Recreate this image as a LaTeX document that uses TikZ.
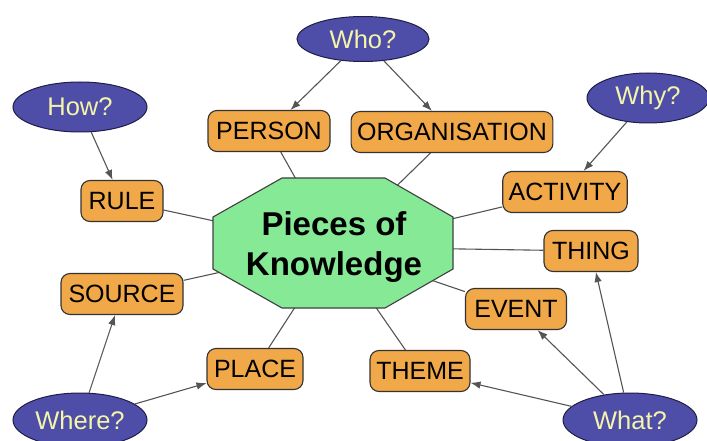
\documentclass[tikz,border=0pt]{standalone}
\usepackage{fontspec}
\setmainfont{Liberation Sans}
\usetikzlibrary{shapes.geometric,arrows.meta}
\pgfdeclarelayer{background}
\pgfsetlayers{background,main}
\definecolor{boxorange}{RGB}{240,168,72}
\definecolor{qblue}{RGB}{78,78,168}
\definecolor{qtext}{RGB}{245,245,170}
\definecolor{kgreen}{RGB}{134,233,150}
\definecolor{edgegray}{RGB}{85,85,85}
\definecolor{qborder}{RGB}{30,30,70}
\begin{document}
\begin{tikzpicture}[x=1pt,y=-1pt,
  box/.style={draw=black!80, fill=boxorange, rounded corners=9pt, line width=1.1pt,
    minimum height=41pt, inner xsep=6pt, inner ysep=0pt,
    font=\fontsize{25}{29}\selectfont, text=black},
  question/.style={ellipse, draw=qborder, fill=qblue, line width=1pt,
    minimum width=134pt, minimum height=50pt, inner sep=0pt, text=qtext,
    font=\fontsize{25.5}{29}\selectfont},
  link/.style={draw=edgegray, line width=1.1pt},
  arr/.style={link, -{Latex[length=10pt,width=7.5pt]}},
  octa/.style={fill=kgreen, draw=black!75, line width=1.1pt},
  kntext/.style={font=\bfseries\fontsize{33}{40}\selectfont, align=center, inner sep=0pt}]
\useasboundingbox (0,0) rectangle (707,441);

% central octagon
\filldraw[octa] (282,178) -- (385,178) -- (453,217) -- (453,269) -- (385,308)
  -- (282,308) -- (213,269) -- (213,217) -- cycle;
\node[kntext] (kn) at (334,247) {Pieces of\\Knowledge};

% boxes
\node[box, minimum width=122pt] (person) at (269,131) {PERSON};
\node[box, minimum width=201pt] (org) at (452,132) {ORGANISATION};
\node[box, minimum width=82pt] (rule) at (122,201) {RULE};
\node[box, minimum width=124pt] (activity) at (565,192) {ACTIVITY};
\node[box, minimum width=94pt] (thing) at (591,251) {THING};
\node[box, minimum width=101pt] (event) at (516,309) {EVENT};
\node[box, minimum width=122pt] (source) at (122,294) {SOURCE};
\node[box, minimum width=96pt] (place) at (255,369) {PLACE};
\node[box, minimum width=100pt] (theme) at (420,371) {THEME};

% questions
\node[question, minimum width=132pt, minimum height=45pt] (who) at (363,39) {Who?};
\node[question] (how) at (80,107) {How?};
\node[question, minimum width=122pt] (why) at (648,98) {Why?};
\node[question, minimum height=54pt] (where) at (80,420) {Where?};
\node[question, minimum height=54pt] (what) at (630,420) {What?};

\begin{pgfonlayer}{background}
  \fill[white] (0,0) rectangle (707,441);
  \foreach \b in {person,org,rule,activity,thing,event,source,place,theme}
    \draw[link] (\b) -- (kn.center);
\end{pgfonlayer}

% arrows
\draw[arr] (who) -- (person);
\draw[arr] (who) -- (org);
\draw[arr] (how) -- (rule);
\draw[arr] (why) -- (activity);
\draw[arr] (what) -- (thing);
\draw[arr] (what) -- (event);
\draw[arr] (what) -- (theme);
\draw[arr] (where) -- (source);
\draw[arr] (where) -- (place);
\end{tikzpicture}
\end{document}
